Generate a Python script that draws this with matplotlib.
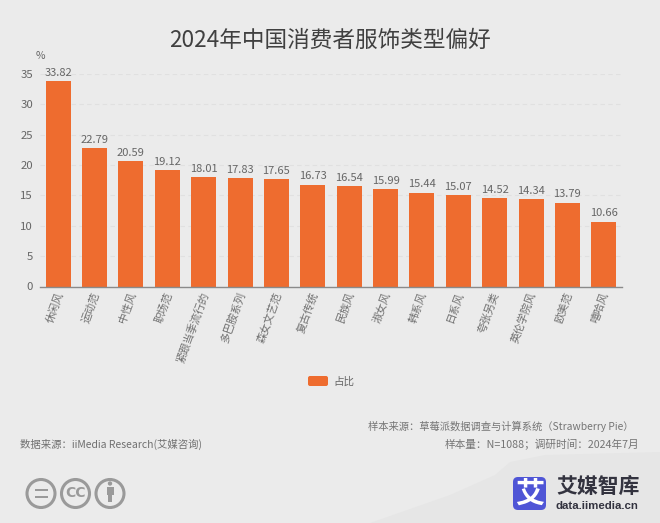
#!/usr/bin/env python3
"""2024 China consumer clothing style preference bar chart."""

import matplotlib
matplotlib.use("Agg")
import matplotlib.pyplot as plt
from matplotlib.patches import Circle, FancyBboxPatch, Polygon, Rectangle
from matplotlib.transforms import ScaledTranslation

plt.rcParams['font.family'] = ['Noto Sans CJK SC', 'DejaVu Sans']

# Data
CATEGORIES = ["休闲风", "运动范", "中性风", "职场范", "紧跟当季流行的", "多巴胺系列", "森女文艺范", "复古传统",
              "民族风", "淑女风", "韩系风", "日系风", "夸张另类", "英伦学院风", "欧美范", "嘻哈风"]
VALUES = [33.82, 22.79, 20.59, 19.12, 18.01, 17.83, 17.65, 16.73,
          16.54, 15.99, 15.44, 15.07, 14.52, 14.34, 13.79, 10.66]
Y_TICKS = [0, 5, 10, 15, 20, 25, 30, 35]

TITLE = "2024年中国消费者服饰类型偏好"
SERIES_NAME = "占比"
# full-width punctuation written as escapes
SOURCE_LEFT = "数据来源\uff1aiiMedia Research(艾媒咨询)"
SOURCE_RIGHT_1 = "样本来源\uff1a草莓派数据调查与计算系统\uff08Strawberry Pie\uff09"
SOURCE_RIGHT_2 = "样本量\uff1aN=1088\uff1b调研时间\uff1a2024年7月"

W, H = 660, 523
BG = '#ebebeb'
ORANGE = '#ee6c2f'
TEXT = '#666666'


def main():
    fig = plt.figure(figsize=(W / 100, H / 100), dpi=100, facecolor=BG)

    # overlay in pixel coordinates for the page furniture
    page = fig.add_axes([0, 0, 1, 1], zorder=0)
    page.set_xlim(0, W)
    page.set_ylim(H, 0)
    page.axis('off')

    # darker swoosh behind the logo
    page.add_patch(Polygon([(370, 523), (450, 495), (495, 475), (510, 462), (545, 455),
                            (660, 452), (660, 523)], closed=True, fc='#e6e6e6', ec='none'))

    # plot area
    ax = fig.add_axes([40 / W, 1 - 286.5 / H, 582 / W, 212.5 / H], zorder=1)
    ax.patch.set_alpha(0)
    x = range(len(CATEGORIES))
    ax.bar(x, VALUES, width=0.685, color=ORANGE, zorder=3)
    ax.set_xlim(-0.5, len(CATEGORIES) - 0.5)
    ax.set_ylim(0, 35)

    ax.set_yticks(Y_TICKS)
    ax.tick_params(axis='y', length=0, labelsize=8.2, labelcolor=TEXT, pad=5)
    ax.set_xticks(list(x))
    ax.set_xticklabels(CATEGORIES, rotation=70, ha='right', va='top', rotation_mode='anchor',
                       fontsize=7.7, color='#707070')
    ax.tick_params(axis='x', length=0, pad=3)
    shift = ScaledTranslation(-3 / 100, 0, fig.dpi_scale_trans)
    for label in ax.get_xticklabels():
        label.set_transform(label.get_transform() + shift)
    ax.grid(axis='y', color='#e0e0e0', linestyle=(0, (4, 3)), linewidth=0.8, zorder=0)
    for side in ['top', 'right', 'left']:
        ax.spines[side].set_visible(False)
    ax.spines['bottom'].set_color('#8a8a8a')
    ax.spines['bottom'].set_linewidth(1.0)
    ax.spines['bottom'].set_zorder(4)

    for i, v in zip(x, VALUES):
        ax.annotate(f"{v:.2f}", (i, v), xytext=(0, 2.5), textcoords='offset points',
                    ha='center', va='bottom', fontsize=8, color=TEXT)

    # title and unit
    page.text(330, 40, TITLE, ha='center', va='center', fontsize=16.3, color='#404040')
    page.text(40, 56, "%", ha='center', va='center', fontsize=7.5, color=TEXT)

    # legend
    page.add_patch(FancyBboxPatch((308, 376), 20, 10, boxstyle="round,pad=0,rounding_size=2",
                                  fc=ORANGE, ec='none'))
    page.text(333, 381.5, SERIES_NAME, ha='left', va='center', fontsize=7.6, color=TEXT)

    # sources
    page.text(20, 444, SOURCE_LEFT, ha='left', va='center', fontsize=7.5, color='#707070')
    page.text(634, 426.5, SOURCE_RIGHT_1, ha='right', va='center', fontsize=7.4, color='#757575')
    page.text(639, 444, SOURCE_RIGHT_2, ha='right', va='center', fontsize=7.7, color='#757575')

    # licence badges
    grey = '#9a9a9a'
    for cx in [41, 75.5, 110]:
        page.add_patch(Circle((cx, 493.5), 14, fc='none', ec=grey, lw=2.2))
    page.add_patch(Rectangle((34.5, 489), 13, 2.4, fc=grey, ec='none'))
    page.add_patch(Rectangle((34.5, 495.5), 13, 2.4, fc=grey, ec='none'))
    page.text(75.5, 493, "CC", ha='center', va='center', fontsize=10, color=grey,
              fontweight='bold', family='DejaVu Sans')
    page.add_patch(Circle((110, 483.5), 2.2, fc=grey, ec='none'))
    page.add_patch(Rectangle((106.5, 487), 7, 8, fc=grey, ec='none'))
    page.add_patch(Rectangle((108, 495), 4, 7, fc=grey, ec='none'))

    # logo
    page.add_patch(FancyBboxPatch((513, 477), 33, 33, boxstyle="round,pad=0,rounding_size=5",
                                  fc='#4f55d6', ec='none'))
    page.text(529.5, 494, "艾", ha='center', va='center', fontsize=21, color='white', fontweight='bold')
    page.text(556, 486, "艾媒智库", ha='left', va='center', fontsize=15, color='#33333f', fontweight='bold')
    page.text(556, 506, "data.iimedia.cn", ha='left', va='center', fontsize=8.2, color='#33333f',
              fontweight='bold', family='Liberation Sans')

    fig.savefig("out.png", dpi=100, facecolor=BG)


if __name__ == "__main__":
    main()
